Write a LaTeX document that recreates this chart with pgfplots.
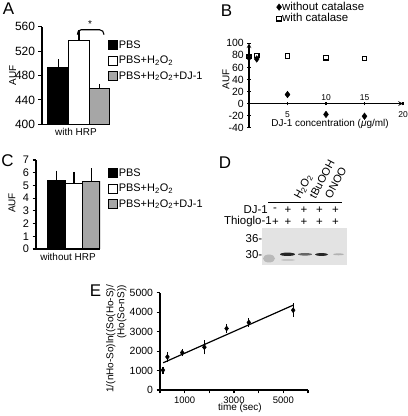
\documentclass[border=0pt]{standalone}
\usepackage{fontspec}
\setmainfont{Liberation Sans}
\usepackage{pgfplots}
\pgfplotsset{compat=1.18}
\definecolor{bargray}{gray}{0.65}

\pgfplotsset{
  every axis/.append style={
    scale only axis, anchor=south west,
    /pgf/number format/assume math mode=true,
    /pgf/number format/set thousands separator={},
    tick label style={font=\fontsize{11}{12}\selectfont},
    label style={font=\fontsize{11.5}{13}\selectfont},
    axis line style={-, line width=1.1bp},
    tick style={line width=1.1bp, black},
    major tick length=3.5bp,
    tick align=outside,
  },
  barleg/.style={legend image code/.code={\draw[##1,line width=1.1bp] (0bp,-4.5bp) rectangle (9bp,4.5bp);}},
  barerr/.style={error bars/.cd, y dir=plus, y explicit, error bar style={line width=1.1bp,black}, error mark options={mark size=2.4bp,line width=1.1bp,black}},
  barleg style/.style={legend style={draw=none, fill=none, inner sep=0bp, font=\fontsize{11}{12}\selectfont, row sep=4bp, nodes={inner sep=0.5bp, text height=8bp, text depth=2.5bp}}, legend cell align=left},
}

\begin{document}
\begin{tikzpicture}[x=1bp,y=1bp]
\useasboundingbox (0,0) rectangle (408,416);

% ---------------- Panel A ----------------
\begin{axis}[at={(42bp,291.7bp)}, width=68bp, height=97.6bp,
  xmin=0.21, xmax=3.5, ymin=400, ymax=560,
  axis x line*=bottom, axis y line*=left,
  xtick=\empty, ytick={400,440,...,560},
  tick label style={font=\fontsize{12}{13}\selectfont},
  ylabel={AUF}, xlabel={with HRP},
  every axis y label/.style={at={(axis description cs:-0.43,0.5)},rotate=90,anchor=center},
  every axis x label/.style={at={(axis description cs:0.5,-0.076)},anchor=center},
  barleg style,
  legend style={at={(axis description cs:0.97,0.87)},anchor=north west},
  clip mode=individual,
]
\addplot[ybar, bar width=1, bar shift=0pt, fill=black, draw=black, line width=1.1bp, barleg, barerr]
  coordinates {(1,493) +- (0,10)};
\addlegendentry{PBS}
\addplot[ybar, bar width=1, bar shift=0pt, fill=white, draw=black, line width=1.1bp, barleg, barerr]
  coordinates {(2,537) +- (0,13)};
\addlegendentry{PBS+H\textsubscript{2}O\textsubscript{2}}
\addplot[ybar, bar width=1, bar shift=0pt, fill=bargray, draw=black, line width=1.1bp, barleg, barerr]
  coordinates {(3,458) +- (0,4.5)};
\addlegendentry{PBS+H\textsubscript{2}O\textsubscript{2}+DJ-1}
\draw[line width=1.1bp] (axis cs:1.92,547) to[out=90,in=180] (axis cs:2.1,555) -- (axis cs:3.0,555) to[out=0,in=90] (axis cs:3.21,547);
\node[font=\fontsize{10}{12}\selectfont] at (axis cs:2.53,564) {*};
\end{axis}

% ---------------- Panel C ----------------
\begin{axis}[at={(36bp,167bp)}, width=64bp, height=89bp,
  xmin=-0.186, xmax=3.5, ymin=0, ymax=7,
  axis x line*=bottom, axis y line*=left,
  xtick=\empty, ytick={0,1,...,7},
  ylabel={AUF}, xlabel={without HRP},
  every axis y label/.style={at={(axis description cs:-0.375,0.517)},rotate=90,anchor=center},
  every axis x label/.style={at={(axis description cs:0.5,-0.084)},anchor=center},
  barleg style,
  legend style={at={(axis description cs:1.125,0.916)},anchor=north west},
  clip mode=individual,
]
\addplot[ybar, bar width=1, bar shift=0pt, fill=black, draw=black, line width=1.1bp, barleg, barerr]
  coordinates {(1,5.35) +- (0,0.62)};
\addlegendentry{PBS}
\addplot[ybar, bar width=1, bar shift=0pt, fill=white, draw=black, line width=1.1bp, barleg, barerr]
  coordinates {(2,5.14) +- (0,0.74)};
\addlegendentry{PBS+H\textsubscript{2}O\textsubscript{2}}
\addplot[ybar, bar width=1, bar shift=0pt, fill=bargray, draw=black, line width=1.1bp, barleg, barerr]
  coordinates {(3,5.3) +- (0,0.86)};
\addlegendentry{PBS+H\textsubscript{2}O\textsubscript{2}+DJ-1}
\end{axis}

% ---------------- Panel B ----------------
\begin{axis}[at={(249bp,288.3bp)}, width=154bp, height=84.4bp,
  xmin=0, xmax=20, ymin=-40, ymax=100,
  axis x line=middle, axis y line=left,
  xtick={5,10,15,20}, xticklabels={}, ytick={-40,-20,...,100},
  tick label style={font=\fontsize{10.5}{12}\selectfont},
  ylabel={AUF}, xlabel={DJ-1 concentration (\textit{μ}g/ml)},
  every axis y label/.style={at={(axis description cs:-0.149,0.57)},rotate=90,anchor=center},
  every axis x label/.style={at={(axis description cs:0.526,0.045)},anchor=center},
  legend style={at={(axis description cs:0.178,1.50)},anchor=north west,draw=none,fill=none,inner sep=0bp,
    font=\fontsize{11.5}{12}\selectfont, row sep=0bp, nodes={inner sep=0.5bp,text height=8.5bp,text depth=2.2bp}},
  legend cell align=left,
  legend image code/.code={\draw[#1] plot coordinates {(2.5bp,0bp)};},
  clip=false,
]
\addplot[only marks, mark=diamond*, mark size=3.3bp, black]
  coordinates {(0,76) (1,74) (5,15) (10,-18) (15,-21)};
\addlegendentry{without catalase}
\addplot[only marks, mark=square, mark size=2.2bp, mark options={line width=1.2bp, fill=white}, black]
  coordinates {(0,78) (1,80) (5,79) (10,76) (15,75)};
\addlegendentry{with catalase}
\node[font=\fontsize{8.5}{10}\selectfont] at (axis cs:5,-18.9) {5};
\node[font=\fontsize{8.5}{10}\selectfont] at (axis cs:10,9.5) {10};
\node[font=\fontsize{8.5}{10}\selectfont] at (axis cs:15,9.5) {15};
\node[font=\fontsize{8.5}{10}\selectfont] at (axis cs:20,-18.9) {20};
\end{axis}

% ---------------- Panel E ----------------
\begin{axis}[at={(160bp,26bp)}, width=148bp, height=97.3bp,
  xmin=0, xmax=6000, ymin=0, ymax=5000,
  axis x line*=bottom, axis y line*=left,
  xtick={0,1000,...,6000}, xticklabels={,1000,,3000,,5000,},
  ytick={0,1000,...,5000},
  xticklabel style={font=\fontsize{9.5}{10}\selectfont},
  yticklabel style={font=\fontsize{10.5}{12}\selectfont},
  xlabel={time (sec)},
  every axis x label/.style={at={(axis description cs:0.54,-0.185)},anchor=center},
  clip=false,
]
\addplot[only marks, mark=diamond*, mark size=2.6bp, black,
  error bars/.cd, y dir=both, y explicit, error bar style={line width=1.1bp,black},
  error mark options={mark size=2.2bp,line width=1.1bp,black}]
  coordinates {(120,1020) +- (0,60) (300,1700) +- (0,150) (900,1920) +- (0,80)
               (1800,2200) +- (0,250) (2700,3160) +- (0,120) (3600,3470) +- (0,100)
               (5400,4100) +- (0,240)};
\addplot[black, line width=1.2bp] coordinates {(130,1400) (5400,4360)};
\end{axis}
\node[rotate=90, align=right, anchor=east, inner sep=0pt, font=\fontsize{10}{11}\selectfont]
  at (116.2,131) {1/(nHo-So)ln((So(Ho-S)/\\(Ho(So-nS))};

% ---------------- Panel D (gel) ----------------
\begin{scope}[font=\fontsize{11}{12}\selectfont]
\node[rotate=62, anchor=base west, inner sep=0pt] at (300,216.5) {H\textsubscript{2}O\textsubscript{2}};
\node[rotate=62, anchor=base west, inner sep=0pt] at (315.5,216.5) {tBuOOH};
\node[rotate=62, anchor=base west, inner sep=0pt] at (331,216.5) {ONOO};
\end{scope}
\begin{scope}[font=\fontsize{11.5}{12}\selectfont]
\draw[line width=1.5bp] (268,213.3) -- (342,213.3);
\node[anchor=east, inner sep=0pt] at (268,206) {DJ-1};
\node[anchor=east, inner sep=0pt] at (272,194.3) {Thioglo-1};
\node[inner sep=0pt] at (275,206) {-};
\foreach \xx in {288,304,319.5,335.5} {\node[inner sep=0pt] at (\xx,206) {+};}
\foreach \xx in {275.5,288,304,319.5,335.5} {\node[inner sep=0pt] at (\xx,194.3) {+};}
\fill[gray!22] (261.7,151.3) rectangle (346.7,188);
\fill[gray!55] (269,157.5) ellipse (6 and 4);
\fill[black!85] (287.5,161.7) ellipse (7.5 and 1.7);
\fill[gray!45] (288,156) ellipse (7 and 1);
\fill[black!60] (305,161.7) ellipse (7 and 1.3);
\fill[black!85] (321.5,161.5) ellipse (6.5 and 1.4);
\fill[black!30] (338.5,161.7) ellipse (5.5 and 1);
\node[anchor=east, inner sep=0pt] at (262.5,177.3) {36-};
\node[anchor=east, inner sep=0pt] at (262.5,161.7) {30-};
\end{scope}

% ---------------- Panel letters ----------------
\begin{scope}[font=\fontsize{17}{18}\selectfont]
\node at (8.5,407) {A};
\node at (226.5,405) {B};
\node at (7.5,255) {C};
\node at (225,253) {D};
\node at (95.5,125.5) {E};
\end{scope}
\end{tikzpicture}
\end{document}
